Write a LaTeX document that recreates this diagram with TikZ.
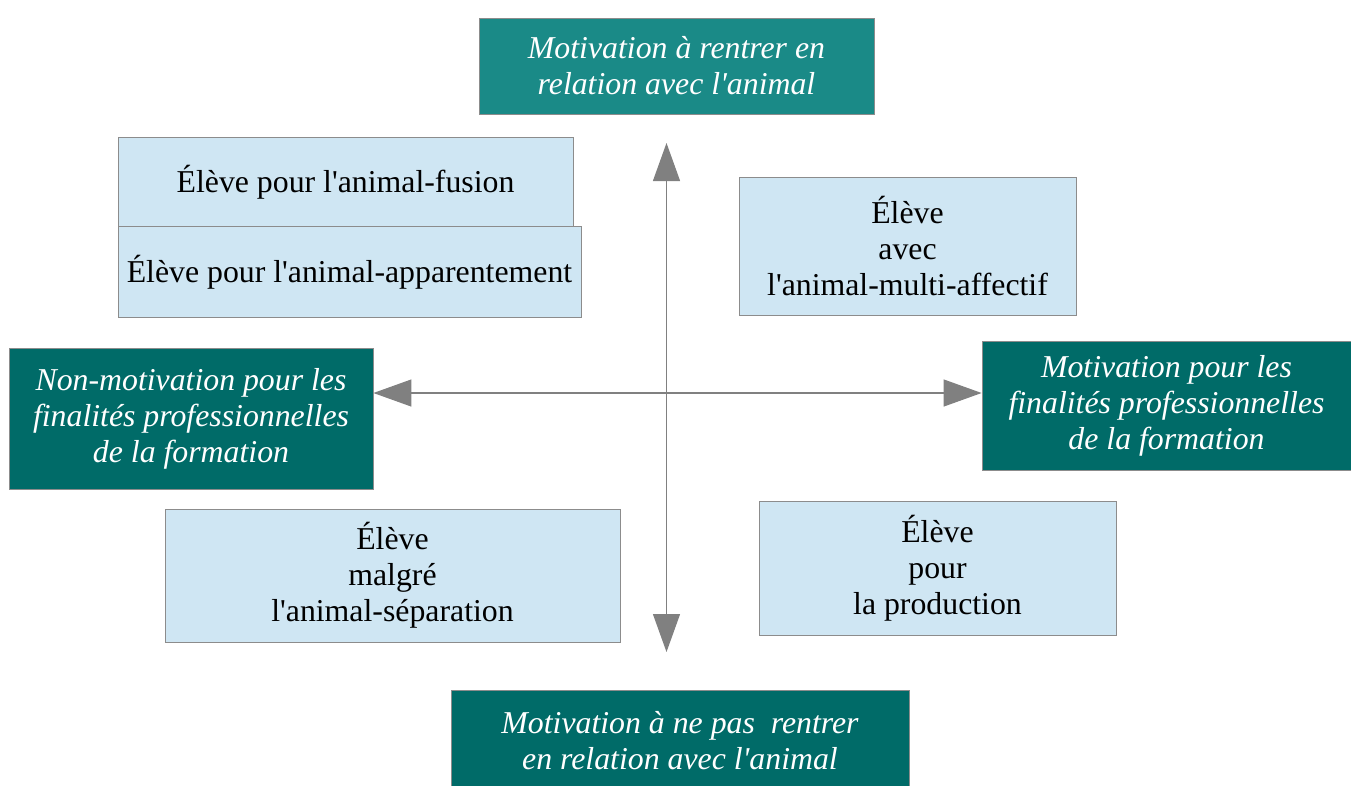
\documentclass[tikz,border=0pt]{standalone}
\usepackage{fontspec}
\setmainfont{Liberation Serif}
\usetikzlibrary{arrows,arrows.meta}
\definecolor{tealclair}{RGB}{26,138,135}
\definecolor{tealfonce}{RGB}{0,107,104}
\definecolor{bleupale}{RGB}{207,230,243}
\definecolor{bord}{RGB}{140,140,140}
\definecolor{fleche}{RGB}{128,128,128}
\newcommand{\apos}{\textquotesingle}

\begin{document}
\begin{tikzpicture}[x=1pt,y=-1pt,
	pole/.style={draw=bord,line width=0.8pt,fill=tealfonce,text=white,
		font=\fontsize{31.8}{36}\selectfont\itshape,align=center,inner sep=0pt},
	eleve/.style={draw=bord,line width=0.8pt,fill=bleupale,text=black,
		font=\fontsize{31.8}{36}\selectfont,align=center,inner sep=0pt},
	axe/.style={draw=fleche,line width=1.2pt,
		{Triangle[length=38pt,width=27pt]}-{Triangle[length=38pt,width=27pt]}}]

	\useasboundingbox (0,0) rectangle (1351,785);

	% les quatre poles
	\node[pole,fill=tealclair,minimum width=395pt,minimum height=96pt] (haut) at (676.5,66)
		{Motivation à rentrer en\\relation avec l\apos animal};
	\node[pole,minimum width=458pt,minimum height=102pt] (bas) at (680,741)
		{Motivation à ne pas\ \ rentrer\\en relation avec l\apos animal};
	\node[pole,minimum width=364pt,minimum height=141pt] (gauche) at (191,419)
		{Non-motivation pour les\\finalités professionnelles\\de la formation};
	\node[pole,minimum width=369pt,minimum height=129pt] (droite) at (1166.5,406)
		{Motivation pour les\\finalités professionnelles\\de la formation};

	% les profils
	\node[eleve,minimum width=455pt,minimum height=89pt] (fusion) at (345.5,182)
		{Élève pour l\apos animal-fusion};
	\node[eleve,minimum width=463pt,minimum height=91pt] (apparent) at (349.5,272)
		{Élève pour l\apos animal-apparentement};
	\node[eleve,minimum width=337pt,minimum height=138pt] (multi) at (907.5,246)
		{Élève\\avec\\l\apos animal-multi-affectif};
	\node[eleve,minimum width=455pt,minimum height=133pt] (separation) at (392.5,575.5)
		{Élève\\malgré\\l\apos animal-séparation};
	\node[eleve,minimum width=357pt,minimum height=134pt] (production) at (937.5,568)
		{Élève\\pour\\la production};

	% les axes
	\coordinate (nord) at (666.5,143);
	\coordinate (sud) at (666.5,652);
	\coordinate (centre) at (666.5,393);
	\draw[axe] (sud) -- (nord);
	\draw[axe] (gauche.east |- centre) -- (droite.west |- centre);
\end{tikzpicture}
\end{document}
